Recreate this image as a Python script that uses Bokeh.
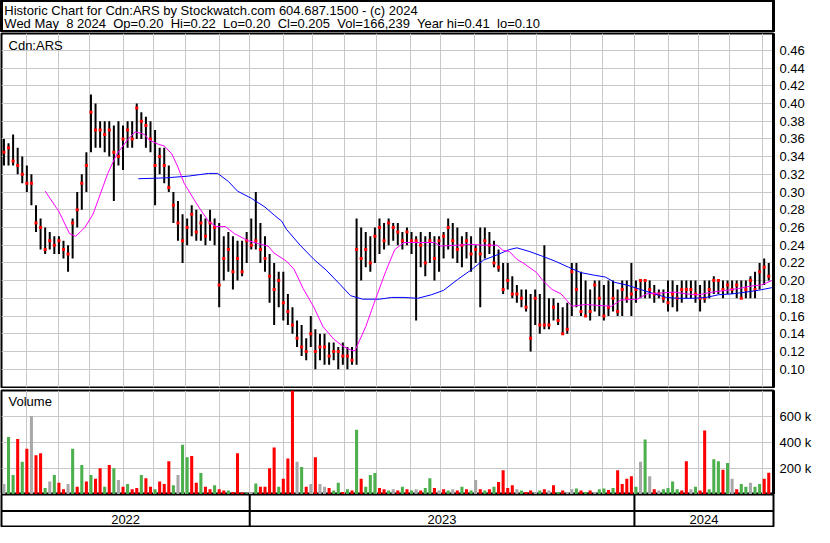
from bokeh.plotting import figure
from bokeh.layouts import column
from bokeh.models import Range1d, FixedTicker, Grid, Label, Span, PrintfTickFormatter
from bokeh.core.properties import value
from bokeh.embed import file_html
from bokeh.resources import INLINE

FONT = "Liberation Sans"
GRID = "#c8c8c8"

header_lines = [
    "Historic Chart for Cdn:ARS by Stockwatch.com 604.687.1500 - (c) 2024",
    "Wed May  8 2024  Op=0.20  Hi=0.22  Lo=0.20  Cl=0.205  Vol=166,239  Year hi=0.41  lo=0.10",
]

# one bar per 3 trading days
highs = [
    .36, .355, .365, .35, .34, .33, .32, .285, .27, .26,
    .255, .25, .25, .245, .24, .27, .30, .32, .345, .41,
    .40, .38, .38, .38, .375, .38, .375, .38, .38, .40,
    .39, .385, .38, .37, .35, .35, .33, .30, .29, .275,
    .27, .285, .28, .275, .27, .28, .27, .265, .25, .255,
    .25, .245, .245, .255, .27, .30, .265, .25, .23, .22,
    .21, .21, .185, .17, .155, .15, .135, .16, .145, .14,
    .14, .13, .13, .125, .13, .125, .125, .27, .26, .255,
    .25, .26, .27, .265, .27, .265, .265, .255, .26, .255,
    .25, .255, .25, .255, .25, .25, .255, .27, .265, .26,
    .25, .255, .25, .24, .26, .26, .255, .245, .235, .22,
    .22, .205, .195, .19, .19, .185, .19, .185, .24, .18,
    .18, .175, .17, .175, .22, .22, .21, .20, .19, .20,
    .20, .195, .20, .20, .19, .20, .20, .22, .20, .20,
    .20, .20, .195, .19, .19, .20, .20, .195, .20, .20,
    .20, .20, .195, .20, .20, .205, .20, .20, .20, .20,
    .20, .20, .20, .205, .21, .22, .225, .22,
]
lows = [
    .33, .33, .33, .32, .31, .30, .285, .255, .235, .23,
    .235, .23, .23, .225, .21, .225, .26, .28, .30, .345,
    .35, .35, .345, .34, .29, .33, .325, .35, .35, .36,
    .36, .35, .345, .285, .32, .31, .30, .265, .245, .22,
    .24, .25, .245, .245, .24, .245, .24, .17, .20, .21,
    .19, .20, .205, .22, .235, .235, .22, .21, .175, .15,
    .17, .155, .15, .14, .125, .115, .11, .125, .10, .11,
    .105, .105, .11, .10, .105, .10, .105, .105, .20, .215,
    .21, .22, .23, .235, .24, .245, .24, .235, .24, .23,
    .155, .215, .205, .22, .20, .21, .225, .235, .225, .22,
    .215, .225, .21, .22, .17, .225, .23, .215, .21, .185,
    .19, .18, .175, .17, .165, .12, .15, .14, .145, .145,
    .155, .15, .14, .14, .16, .17, .16, .16, .155, .165,
    .16, .155, .16, .165, .16, .16, .175, .16, .175, .18,
    .18, .18, .175, .18, .175, .165, .17, .165, .175, .18,
    .18, .175, .165, .175, .18, .185, .185, .18, .185, .185,
    .18, .18, .18, .18, .18, .19, .195, .20,
]
closes = [
    .345, .35, .335, .33, .32, .31, .31, .265, .26, .235,
    .245, .24, .245, .235, .23, .265, .28, .31, .33, .39,
    .37, .37, .365, .37, .345, .34, .36, .37, .36, .395,
    .38, .375, .36, .33, .34, .33, .305, .285, .265, .245,
    .26, .275, .255, .265, .25, .265, .26, .195, .225, .235,
    .21, .225, .21, .245, .24, .245, .235, .225, .205, .19,
    .20, .175, .165, .15, .135, .125, .12, .14, .12, .125,
    .125, .115, .12, .12, .115, .115, .11, .235, .225, .235,
    .22, .25, .26, .245, .265, .26, .255, .245, .255, .245,
    .245, .24, .22, .245, .225, .245, .25, .26, .245, .235,
    .24, .245, .23, .235, .23, .245, .24, .22, .215, .19,
    .20, .185, .185, .18, .17, .135, .18, .15, .15, .15,
    .17, .155, .14, .145, .21, .19, .165, .16, .165, .195,
    .18, .16, .17, .18, .165, .19, .18, .185, .19, .20,
    .20, .19, .185, .185, .18, .175, .185, .18, .19, .19,
    .19, .185, .18, .18, .19, .20, .20, .19, .195, .19,
    .195, .18, .19, .20, .19, .21, .215, .205,
]
# volume in thousands
volumes = [
    80, 440, 150, 425, 250, 350, 600, 300, 315, 50,
    100, 150, 90, 40, 80, 350, 60, 225, 100, 150,
    120, 200, 60, 225, 200, 110, 60, 80, 40, 50,
    150, 125, 60, 40, 100, 80, 255, 70, 150, 380,
    285, 295, 90, 165, 60, 40, 70, 40, 30, 30,
    20, 315, 15, 10, 20, 85, 60, 60, 200, 360,
    60, 120, 275, 800, 250, 210, 60, 80, 285, 80,
    60, 50, 30, 90, 20, 40, 30, 495, 120, 60,
    150, 165, 50, 40, 30, 40, 30, 60, 40, 30,
    40, 30, 50, 125, 50, 30, 40, 30, 40, 30,
    60, 40, 30, 110, 40, 30, 40, 60, 95, 185,
    50, 70, 40, 30, 20, 30, 20, 30, 40, 30,
    70, 20, 30, 20, 40, 45, 30, 20, 30, 20,
    40, 45, 35, 50, 185, 80, 120, 140, 60, 250,
    420, 140, 40, 30, 40, 50, 100, 40, 30, 255,
    40, 60, 30, 490, 40, 270, 255, 190, 240, 120,
    40, 80, 60, 90, 60, 80, 120, 166,
]
# u = up day (green), d = down day (red), n = unchanged (grey)
vol_dir = list(
    "nuududnddu" "nuddnududu" "ddudundudd" "uddudddunu"
    "uddudduddu" "dddunudddd" "udddnudndn" "nduudududu"
    "uuddundudu" "nduudndund" "udundududd" "ddnuddnudn"
    "dudnnududn" "uududdddun" "undnuuuudd" "nudduuudun"
    "duunuudd"
)

# moving averages (trading-day index, value)
ma_fast_days = [28, 37, 44, 48, 51, 54, 59, 60, 69, 75, 82, 87, 93, 96, 102, 106,
                111, 115, 119, 125, 129, 135, 140, 146, 152, 161, 167, 174, 178, 186, 191, 197,
                204, 210, 217, 223, 229, 231, 238, 244, 251, 257, 263, 273, 283, 287, 298, 307,
                315, 324, 328, 332, 337, 341, 350, 354, 360, 366, 373, 382, 390, 399, 405, 416,
                422, 431, 440, 448, 456, 465, 474, 482, 491, 497, 504]
ma_fast_vals = [.301, .278, .253, .25, .255, .26, .274, .278, .321, .343, .359, .368, .365, .359, .354, .352,
                .343, .328, .31, .293, .282, .267, .261, .261, .253, .245, .242, .239, .231, .222, .213, .191,
                .17, .148, .134, .126, .121, .121, .148, .177, .21, .235, .243, .243, .243, .239, .24, .241,
                .24, .24, .234, .233, .224, .22, .209, .20, .19, .185, .171, .173, .172, .171, .178, .179,
                .185, .186, .187, .185, .184, .187, .189, .191, .194, .195, .20]
ma_slow_days = [89, 107, 122, 135, 141, 148, 154, 163, 172, 178, 183, 186, 195, 204, 212, 221,
                228, 236, 247, 255, 263, 272, 281, 289, 298, 307, 315, 324, 332, 337, 345, 353,
                362, 371, 379, 388, 395, 401, 409, 418, 427, 435, 443, 452, 461, 469, 478, 487,
                495, 504]
ma_slow_vals = [.315, .316, .318, .321, .321, .312, .301, .293, .283, .274, .267, .258, .24, .224, .212, .196,
                .183, .179, .179, .181, .181, .18, .184, .189, .201, .212, .223, .229, .235, .237, .233, .228,
                .222, .215, .209, .206, .204, .198, .195, .19, .185, .181, .18, .18, .181, .184, .185, .187,
                .189, .192]

# axis / grid positions (trading-day index of month starts)
month_days = [16, 37, 57, 79, 99, 120, 142, 162, 184, 203, 224, 245,
              267, 287, 309, 331, 350, 372, 393, 414, 436, 456, 476, 498]
year_bounds = [162, 414]
year_labels = ["2022", "2023", "2024"]
price_ticks = [0.10, 0.12, 0.14, 0.16, 0.18, 0.20, 0.22, 0.24, 0.26, 0.28,
               0.30, 0.32, 0.34, 0.36, 0.38, 0.40, 0.42, 0.44, 0.46]
vol_ticks = [200, 400, 600]
vol_tick_labels = ["200 k", "400 k", "600 k"]

n = min(len(highs), len(lows), len(closes), len(volumes), len(vol_dir))
bar_step = 3
days = [bar_step * i + 1 for i in range(n)]
X_START, X_END = -0.6, 505.1
xr = Range1d(X_START, X_END)

W = 814
RIGHT = 40


def base_fig(height, y_range, yaxis, top, bottom, xrange=xr, left=1, right=RIGHT):
    f = figure(width=W, height=height, x_range=xrange, y_range=y_range,
               output_backend="svg", toolbar_location=None,
               x_axis_location=None, y_axis_location=("right" if yaxis else None),
               min_border_left=left, min_border_right=right,
               min_border_top=top, min_border_bottom=bottom,
               background_fill_color="white", border_fill_color="white",
               outline_line_color="black", outline_line_width=2)
    for g in f.grid:
        g.visible = False
    return f


def style_axis(f, ticks):
    ax = f.yaxis[0]
    ax.ticker = FixedTicker(ticks=ticks)
    ax.axis_line_width = 3
    ax.axis_line_color = "black"
    ax.major_tick_line_color = None
    ax.minor_tick_line_color = None
    ax.major_tick_out = 0
    ax.major_tick_in = 0
    ax.major_label_standoff = 6
    ax.major_label_text_font = FONT
    ax.major_label_text_font_size = "13px"
    ax.major_label_text_color = "black"


# ---------- header ----------
# keep the reference's double spacing visible (SVG collapses plain runs of spaces)
shown_header = [s.replace("  ", "\u00a0 ") for s in header_lines]
hdr = figure(width=W, height=32, x_range=Range1d(0, W), y_range=Range1d(32, 0),
             output_backend="svg", toolbar_location=None,
             x_axis_location=None, y_axis_location=None, min_border=0,
             background_fill_color="white", border_fill_color="white",
             outline_line_color="black", outline_line_width=3)
for g in hdr.grid:
    g.visible = False
hdr.text(x=[3, 3], y=[2, 15], text=shown_header, text_font=value(FONT),
         text_font_size=value("13px"), text_color="black", text_baseline="top",
         text_line_height=1.0)

# ---------- price ----------
p = base_fig(356, Range1d(0.0793, 0.479), True, 1, 1)
style_axis(p, price_ticks)
p.yaxis[0].formatter = PrintfTickFormatter(format="%.2f")
p.add_layout(Grid(dimension=0, ticker=FixedTicker(ticks=month_days), grid_line_color=GRID))
p.add_layout(Grid(dimension=1, ticker=FixedTicker(ticks=price_ticks), grid_line_color=GRID))
p.segment(x0=days, y0=lows[:n], x1=days, y1=highs[:n], line_color="black", line_width=2)
p.scatter(x=days, y=closes[:n], marker="square", size=3, color="#ff0000", line_width=0)
p.line(ma_slow_days, ma_slow_vals, line_color="#0000ff", line_width=1)
p.line(ma_fast_days, ma_fast_vals, line_color="#ff00ff", line_width=1)
p.add_layout(Label(x=4, y=0.474, text="Cdn:ARS", text_baseline="top",
                   text_font=FONT, text_font_size="13px", text_color="black"))

# ---------- volume ----------
dir_colors = {"u": "#4cb04c", "d": "#ff0000", "n": "#a8a8a8"}
v = base_fig(106, Range1d(0, 795), True, 2, 0)
style_axis(v, vol_ticks)
v.yaxis[0].major_label_overrides = dict(zip(vol_ticks, vol_tick_labels))
v.add_layout(Grid(dimension=0, ticker=FixedTicker(ticks=month_days), grid_line_color=GRID))
v.add_layout(Grid(dimension=1, ticker=FixedTicker(ticks=vol_ticks), grid_line_color=GRID))
v.vbar(x=days, top=volumes[:n], bottom=0, width=2.0,
       fill_color=[dir_colors[d] for d in vol_dir[:n]], line_color=None)
v.add_layout(Label(x=4, y=765, text="Volume", text_baseline="top",
                   text_font=FONT, text_font_size="13px", text_color="black"))

# ---------- years ----------
yr = base_fig(33, Range1d(0, 2), False, 0, 0)
yr.add_layout(Span(location=1, dimension="width", line_color="black", line_width=2))
for b in year_bounds:
    yr.add_layout(Span(location=b, dimension="height", line_color="black", line_width=2))
edges = [X_START] + year_bounds + [X_END]
year_centers = [(edges[i] + edges[i + 1]) / 2 for i in range(len(year_labels))]
yr.text(x=year_centers, y=[0.5] * len(year_labels), text=year_labels,
        text_align="center", text_baseline="middle", text_font=value(FONT),
        text_font_size=value("13px"), text_color="black")

layout = column(hdr, p, v, yr, spacing=0)
open("out.html", "w").write(file_html(layout, INLINE))
